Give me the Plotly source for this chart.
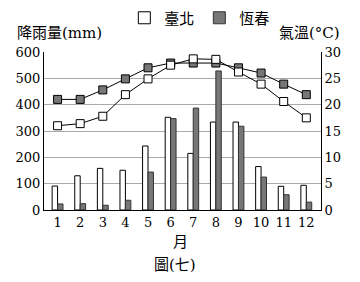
import plotly.graph_objects as go

months = [1, 2, 3, 4, 5, 6, 7, 8, 9, 10, 11, 12]
month_labels = [str(m) for m in months]
taipei_rain = [91, 130, 158, 151, 243, 352, 215, 334, 334, 165, 90, 94]
hengchun_rain = [23, 24, 18, 37, 144, 347, 387, 528, 318, 125, 58, 30]
taipei_temp = [16.0, 16.4, 17.8, 21.9, 24.9, 27.5, 28.7, 28.6, 26.2, 23.9, 20.6, 17.5]
hengchun_temp = [21.0, 21.0, 22.8, 24.9, 27.0, 27.9, 27.9, 27.9, 27.0, 26.0, 23.9, 21.9]

NUM_FONT = "DejaVu Serif, Liberation Serif, serif"
CJK_FONT = "DejaVu Serif, Noto Sans CJK TC, serif"
GRAY = "#777777"

fig = go.Figure()
fig.add_trace(go.Bar(x=months, y=taipei_rain, name="臺北",
                     marker=dict(color="white", line=dict(color="black", width=1)),
                     yaxis="y"))
fig.add_trace(go.Bar(x=months, y=hengchun_rain, name="恆春",
                     marker=dict(color=GRAY, line=dict(color="#333333", width=1)),
                     yaxis="y"))
fig.add_trace(go.Scatter(x=months, y=hengchun_temp, mode="lines+markers", yaxis="y2",
                         showlegend=False,
                         line=dict(color="black", width=1),
                         marker=dict(symbol="square", size=8, color=GRAY,
                                     line=dict(color="black", width=1))))
fig.add_trace(go.Scatter(x=months, y=taipei_temp, mode="lines+markers", yaxis="y2",
                         showlegend=False,
                         line=dict(color="black", width=1),
                         marker=dict(symbol="square", size=8, color="white",
                                     line=dict(color="black", width=1))))

fig.update_layout(
    width=360, height=282,
    margin=dict(l=44, r=39, t=52, b=72, autoexpand=False),
    paper_bgcolor="white", plot_bgcolor="white",
    barmode="group", bargap=0.52, bargroupgap=0,
    font=dict(family=NUM_FONT, size=13, color="black"),
    showlegend=True,
    legend=dict(orientation="h", x=0.29, xanchor="left", y=1.215, yanchor="middle",
                font=dict(family=CJK_FONT, size=15), itemwidth=30,
                bgcolor="rgba(0,0,0,0)"),
    xaxis=dict(range=[0.4, 12.65], tickmode="array", tickvals=months,
               ticktext=month_labels, showgrid=False, showline=True,
               linecolor="black", linewidth=1, ticks="", zeroline=False,
               tickfont=dict(family=NUM_FONT, size=13)),
    yaxis=dict(range=[0, 600], dtick=100, showgrid=True, gridcolor="#aaaaaa",
               gridwidth=1, showline=True, linecolor="black", linewidth=1,
               ticks="", zeroline=False, tickfont=dict(family=NUM_FONT, size=13)),
    yaxis2=dict(range=[0, 30], dtick=5, overlaying="y", side="right",
                showgrid=False, showline=True, linecolor="black", linewidth=1,
                ticks="", zeroline=False, tickfont=dict(family=NUM_FONT, size=13)),
    annotations=[
        dict(text="降雨量(mm)", xref="paper", yref="paper", x=-0.105, y=1.12,
             xanchor="left", yanchor="middle", showarrow=False,
             font=dict(family=CJK_FONT, size=15)),
        dict(text="氣溫(°C)", xref="paper", yref="paper", x=1.076, y=1.12,
             xanchor="right", yanchor="middle", showarrow=False,
             font=dict(family=CJK_FONT, size=15)),
        dict(text="月", xref="paper", yref="paper", x=0.491, y=-0.205,
             xanchor="center", yanchor="middle", showarrow=False,
             font=dict(family=CJK_FONT, size=15)),
        dict(text="圖(七)", xref="paper", yref="paper", x=0.473, y=-0.35,
             xanchor="center", yanchor="middle", showarrow=False,
             font=dict(family=CJK_FONT, size=15)),
    ],
)

fig.write_html("out.html")
